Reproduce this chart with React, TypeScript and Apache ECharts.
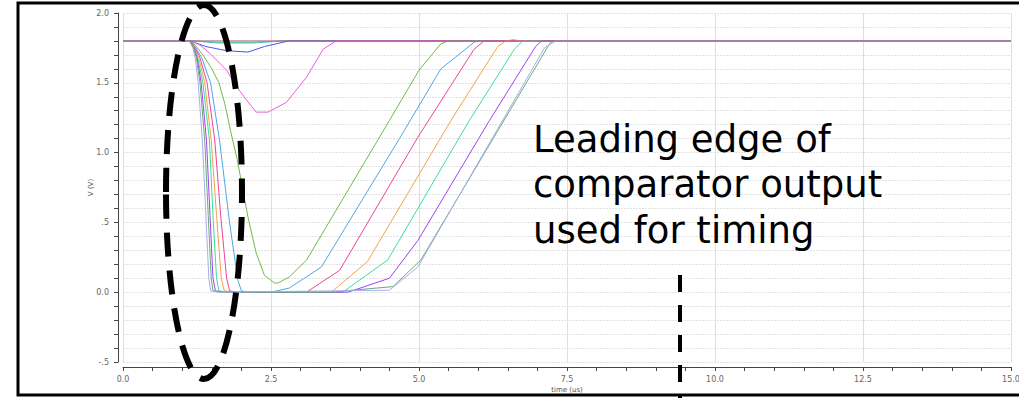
import React, { useEffect, useRef } from "react";
import * as echarts from "echarts";

// ---- data (x in us, y in V) ----
const sGreen = [[0,1.8],[1.14,1.8],[1.22,1.77],[1.35,1.7],[1.5,1.6],[1.62,1.5],[1.72,1.35],[1.82,1.15],[1.93,0.95],[2.11,0.54],[2.25,0.28],[2.39,0.12],[2.56,0.066],[2.62,0.066],[2.81,0.11],[3.1,0.23],[4.5,1.23],[5.0,1.59],[5.37,1.78],[5.5,1.8],[15,1.8]];
const sBlue = [[0,1.8],[1.14,1.8],[1.23,1.75],[1.33,1.68],[1.48,1.5],[1.63,1.09],[1.8,0.5],[1.94,0.086],[2.0,0.01],[2.1,0],[2.5,0.0],[2.81,0.03],[3.35,0.18],[4.67,1.1],[5.37,1.6],[5.93,1.79],[6.0,1.8],[15,1.8]];
const sPink = [[0,1.8],[1.14,1.8],[1.22,1.75],[1.3,1.68],[1.42,1.5],[1.55,1.09],[1.65,0.55],[1.75,0.1],[1.8,0.01],[1.95,0],[3.1,0.0],[3.66,0.157],[4.98,1.11],[5.93,1.74],[6.1,1.8],[15,1.8]];
const sOrange = [[0,1.8],[1.14,1.8],[1.21,1.75],[1.28,1.68],[1.38,1.5],[1.49,1.09],[1.58,0.55],[1.66,0.1],[1.71,0.01],[1.85,0],[3.52,0.0],[4.13,0.22],[5.54,1.23],[6.33,1.76],[6.47,1.8],[6.6,1.81],[6.7,1.8],[15,1.8]];
const sTeal = [[0,1.8],[1.13,1.8],[1.2,1.75],[1.26,1.68],[1.35,1.5],[1.46,1.09],[1.52,0.55],[1.58,0.1],[1.62,0.01],[1.75,0],[3.71,0.0],[4.47,0.23],[5.85,1.23],[6.61,1.74],[6.75,1.8],[15,1.8]];
const sPurple = [[0,1.8],[1.13,1.8],[1.2,1.75],[1.25,1.68],[1.32,1.5],[1.41,1.09],[1.47,0.55],[1.52,0.1],[1.56,0.01],[1.7,0],[3.8,0.0],[4.5,0.1],[4.98,0.37],[6.19,1.23],[6.97,1.76],[7.07,1.8],[15,1.8]];
const sDarkGreen = [[0,1.8],[1.12,1.8],[1.19,1.75],[1.24,1.68],[1.3,1.5],[1.38,1.09],[1.44,0.55],[1.49,0.1],[1.52,0.01],[1.65,0],[3.5,0.0],[4.56,0.04],[5.03,0.23],[7.22,1.79],[7.3,1.8],[15,1.8]];
const sLavender = [[0,1.8],[1.12,1.8],[1.18,1.75],[1.22,1.68],[1.27,1.5],[1.34,1.09],[1.4,0.55],[1.45,0.1],[1.48,0.01],[1.6,0],[4.5,0.014],[4.98,0.18],[7.12,1.75],[7.31,1.8],[15,1.8]];
const sDipMagenta = [[0,1.8],[1.15,1.8],[1.3,1.77],[1.47,1.71],[1.75,1.59],[1.92,1.47],[2.1,1.37],[2.25,1.29],[2.45,1.29],[2.76,1.36],[3.1,1.54],[3.38,1.74],[3.6,1.8],[15,1.8]];
const sDipBlue = [[0,1.8],[1.13,1.8],[1.4,1.76],[1.75,1.73],[2.11,1.72],[2.39,1.76],[2.7,1.79],[2.8,1.8],[15,1.8]];
const sDipGreen = [[0,1.8],[1.2,1.8],[1.6,1.79],[2.2,1.79],[2.7,1.8],[15,1.8]];
const sDipTeal = [[0,1.8],[1.2,1.8],[1.6,1.785],[2.2,1.785],[2.7,1.8],[15,1.8]];
const sFlat = [[0,1.8],[15,1.8]];

const xTickLabels = ["0.0", "2.5", "5.0", "7.5", "10.0", "12.5", "15.0"];
const yTickLabels = ["-.5", "0.0", ".5", "1.0", "1.5", "2.0"];
const annotationLines = ["Leading edge of", "comparator output", "used for timing"];

const seriesList: [number[][], string][] = [
  [sDipGreen, "#55bb55"],
  [sDipTeal, "#44ccbb"],
  [sDipBlue, "#4a55ee"],
  [sDipMagenta, "#ee5ce0"],
  [sGreen, "#6dbb4a"],
  [sBlue, "#4ea6e6"],
  [sPink, "#ee4499"],
  [sOrange, "#f5a04a"],
  [sTeal, "#3ddc9c"],
  [sPurple, "#9b44ee"],
  [sDarkGreen, "#6aaa78"],
  [sLavender, "#a8aeea"],
  [sFlat, "#b8608f"],
];

export default function App() {
  const ref = useRef<HTMLDivElement>(null);
  useEffect(() => {
    if (!ref.current) return;
    const chart = echarts.init(ref.current, null, { renderer: "svg" });
    const font = "DejaVu Sans";
    chart.setOption({
      animation: false,
      backgroundColor: "#ffffff",
      grid: { left: 123, right: 8, top: 13, bottom: 36, outerBoundsMode: "none", containLabel: false },
      xAxis: {
        type: "value",
        min: 0,
        max: 15,
        interval: 2.5,
        offset: 5,
        name: "time (us)",
        nameLocation: "middle",
        nameGap: 19,
        nameMoveOverlap: false,
        nameTextStyle: { fontSize: 7, color: "#555", fontFamily: font },
        axisLine: { show: true, onZero: false, lineStyle: { color: "#444", width: 1 } },
        axisTick: { show: true, length: 4, lineStyle: { color: "#444" } },
        minorTick: { show: true, splitNumber: 5, length: 4, lineStyle: { color: "#444" } },
        axisLabel: {
          fontSize: 8,
          color: "#666",
          fontFamily: font,
          margin: 8,
          formatter: (v: number) => xTickLabels[Math.round(v / 2.5)] ?? "",
        },
        splitLine: { show: true, lineStyle: { color: "#dedede", width: 1 } },
      },
      yAxis: {
        type: "value",
        min: -0.5,
        max: 2.0,
        interval: 0.5,
        offset: 5,
        name: "V (V)",
        nameLocation: "middle",
        nameGap: 24,
        nameMoveOverlap: false,
        nameTextStyle: { fontSize: 7, color: "#555", fontFamily: font },
        axisLine: { show: true, onZero: false, lineStyle: { color: "#444", width: 1 } },
        axisTick: { show: true, length: 4, lineStyle: { color: "#444" } },
        minorTick: { show: true, splitNumber: 5, length: 4, lineStyle: { color: "#444" } },
        axisLabel: {
          fontSize: 8,
          color: "#666",
          fontFamily: font,
          margin: 9,
          formatter: (v: number) => yTickLabels[Math.round((v + 0.5) / 0.5)] ?? "",
        },
        splitLine: { show: true, lineStyle: { color: "#e2e2e2", width: 1, type: [2, 1] } },
        minorSplitLine: { show: true, lineStyle: { color: "#e2e2e2", width: 1, type: [2, 1] } },
      },
      series: seriesList.map(([d, c]) => ({
        type: "line",
        data: d,
        showSymbol: false,
        symbol: "none",
        lineStyle: { width: 1, color: c },
        itemStyle: { color: c },
      })),
      graphic: [
        {
          type: "rect",
          shape: { x: 18, y: 3, width: 1020, height: 392 },
          style: { fill: "none", stroke: "#000", lineWidth: 3 },
          z: 100,
        },
        {
          type: "ellipse",
          shape: { cx: 204, cy: 192, rx: 38, ry: 187 },
          style: { fill: "none", stroke: "#000", lineWidth: 6, lineDash: [24, 14] },
          z: 100,
        },
        {
          type: "line",
          shape: { x1: 680, y1: 275, x2: 680, y2: 400 },
          style: { stroke: "#000", lineWidth: 4, lineDash: [17, 13] },
          z: 100,
        },
        ...annotationLines.map((t, i) => ({
          type: "text",
          x: 533,
          y: 139 + i * 45.5,
          style: {
            text: t,
            font: `37px "${font}"`,
            fill: "#000",
            textVerticalAlign: "middle",
          },
          z: 100,
        })),
      ],
    });
    return () => chart.dispose();
  }, []);
  return (
    <div
      ref={ref}
      style={{ position: "fixed", left: 0, top: 0, width: 1019, height: 398 }}
    />
  );
}
